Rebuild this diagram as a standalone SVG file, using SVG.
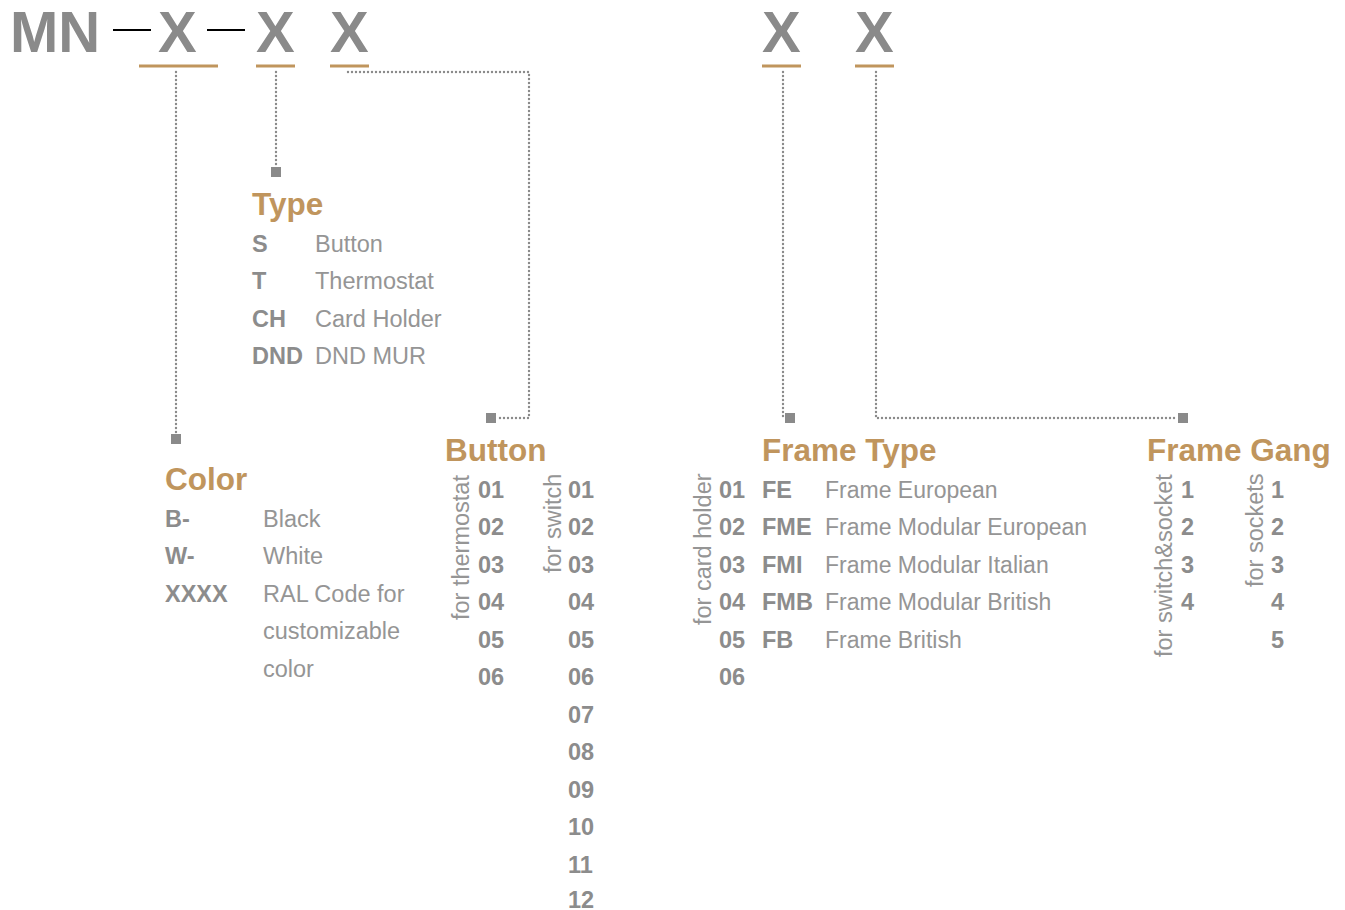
<svg xmlns="http://www.w3.org/2000/svg" width="1345" height="910" viewBox="0 0 1345 910">
<style>
text{font-family:"Liberation Sans",Arial,Helvetica,sans-serif}
.big{font-size:58px;font-weight:bold;fill:#8a8a8a}
.ttl{font-size:31.5px;font-weight:bold;fill:#c0955d}
.b{font-size:23.5px;font-weight:bold;fill:#8c8c8c}
.l{font-size:23.5px;fill:#959595}
.ft{font-size:23px}
.ul{stroke:#c0955d;stroke-width:3}
.dash{stroke:#000;stroke-width:2}
.dot{fill:none;stroke:#8a8a8a;stroke-width:2.4;stroke-linecap:round;stroke-dasharray:0 4}
.sq{fill:#8a8a8a}
</style>
<rect width="1345" height="910" fill="#fff"/>
<g id="code">
<text class="big" x="10" y="52">MN</text>
<line class="dash" x1="113" y1="30" x2="151" y2="30"/>
<text class="big" x="158" y="52">X</text>
<line class="dash" x1="207" y1="30" x2="245" y2="30"/>
<text class="big" x="256" y="52">X</text>
<text class="big" x="330" y="52">X</text>
<text class="big" x="762" y="52">X</text>
<text class="big" x="855" y="52">X</text>
<line class="ul" x1="139" y1="66" x2="218" y2="66"/>
<line class="ul" x1="256" y1="66" x2="295" y2="66"/>
<line class="ul" x1="330" y1="66" x2="369" y2="66"/>
<line class="ul" x1="762" y1="66" x2="801" y2="66"/>
<line class="ul" x1="855" y1="66" x2="894" y2="66"/>
</g>
<g id="connectors">
<path class="dot" d="M176 72V434"/>
<rect class="sq" x="171" y="434" width="10" height="10"/>
<path class="dot" d="M276 72V167"/>
<rect class="sq" x="271" y="167" width="10" height="10"/>
<path class="dot" d="M348 72H529V418H496"/>
<rect class="sq" x="486" y="413" width="10" height="10"/>
<path class="dot" d="M783 72V418H785"/>
<rect class="sq" x="785" y="413" width="10" height="10"/>
<path class="dot" d="M876 72V418H1178"/>
<rect class="sq" x="1178" y="413" width="10" height="10"/>
</g>
<g id="type">
<text class="ttl" x="252" y="215">Type</text>
<text class="b" x="252" y="251.5">S</text><text class="l" x="315" y="251.5">Button</text>
<text class="b" x="252" y="289">T</text><text class="l" x="315" y="289">Thermostat</text>
<text class="b" x="252" y="326.5">CH</text><text class="l" x="315" y="326.5">Card Holder</text>
<text class="b" x="252" y="364">DND</text><text class="l" x="315" y="364">DND MUR</text>
</g>
<g id="color">
<text class="ttl" x="165" y="490">Color</text>
<text class="b" x="165" y="526.5">B-</text><text class="l" x="263" y="526.5">Black</text>
<text class="b" x="165" y="564">W-</text><text class="l" x="263" y="564">White</text>
<text class="b" x="165" y="601.5">XXXX</text><text class="l" x="263" y="601.5">RAL Code for</text>
<text class="l" x="263" y="639">customizable</text>
<text class="l" x="263" y="676.5">color</text>
</g>
<g id="button">
<text class="ttl" x="445" y="461">Button</text>
<text class="l" transform="translate(469 620) rotate(-90)">for thermostat</text>
<text class="b" x="478" y="497.5">01</text>
<text class="b" x="478" y="535">02</text>
<text class="b" x="478" y="572.5">03</text>
<text class="b" x="478" y="610">04</text>
<text class="b" x="478" y="647.5">05</text>
<text class="b" x="478" y="685">06</text>
<text class="l" transform="translate(561 573) rotate(-90)">for switch</text>
<text class="b" x="568" y="497.5">01</text>
<text class="b" x="568" y="535">02</text>
<text class="b" x="568" y="572.5">03</text>
<text class="b" x="568" y="610">04</text>
<text class="b" x="568" y="647.5">05</text>
<text class="b" x="568" y="685">06</text>
<text class="b" x="568" y="722.5">07</text>
<text class="b" x="568" y="760">08</text>
<text class="b" x="568" y="797.5">09</text>
<text class="b" x="568" y="835">10</text>
<text class="b" x="568" y="872.5">11</text>
<text class="b" x="568" y="907.5">12</text>
</g>
<g id="frame-type">
<text class="ttl" x="762" y="461">Frame Type</text>
<text class="l" transform="translate(711 625) rotate(-90)">for card holder</text>
<text class="b" x="719" y="497.5">01</text><text class="b" x="762" y="497.5">FE</text><text class="l ft" x="825" y="497.5">Frame European</text>
<text class="b" x="719" y="535">02</text><text class="b" x="762" y="535">FME</text><text class="l ft" x="825" y="535">Frame Modular European</text>
<text class="b" x="719" y="572.5">03</text><text class="b" x="762" y="572.5">FMI</text><text class="l ft" x="825" y="572.5">Frame Modular Italian</text>
<text class="b" x="719" y="610">04</text><text class="b" x="762" y="610">FMB</text><text class="l ft" x="825" y="610">Frame Modular British</text>
<text class="b" x="719" y="647.5">05</text><text class="b" x="762" y="647.5">FB</text><text class="l ft" x="825" y="647.5">Frame British</text>
<text class="b" x="719" y="685">06</text>
</g>
<g id="frame-gang">
<text class="ttl" x="1147" y="461">Frame Gang</text>
<text class="l" transform="translate(1172 657) rotate(-90)">for switch&amp;socket</text>
<text class="b" x="1181" y="497.5">1</text>
<text class="b" x="1181" y="535">2</text>
<text class="b" x="1181" y="572.5">3</text>
<text class="b" x="1181" y="610">4</text>
<text class="l" transform="translate(1263 587) rotate(-90)">for sockets</text>
<text class="b" x="1271" y="497.5">1</text>
<text class="b" x="1271" y="535">2</text>
<text class="b" x="1271" y="572.5">3</text>
<text class="b" x="1271" y="610">4</text>
<text class="b" x="1271" y="647.5">5</text>
</g>
</svg>
